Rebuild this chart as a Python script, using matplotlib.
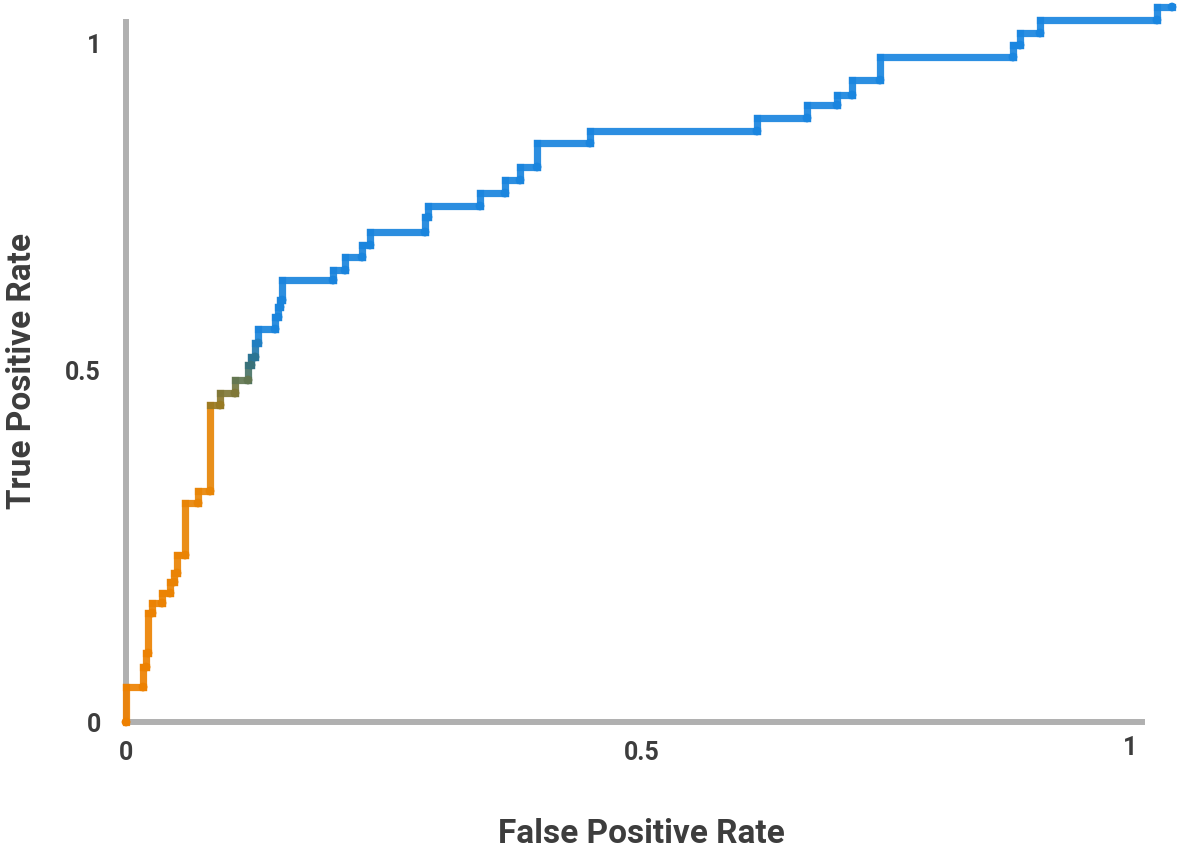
import numpy as np
import matplotlib
matplotlib.use('Agg')
import matplotlib.pyplot as plt
from matplotlib.collections import LineCollection
from matplotlib.colors import LinearSegmentedColormap
from matplotlib.transforms import ScaledTranslation

# ROC points (corner at the right end of each horizontal run)
fpr = [0.0, 0.0165, 0.0194, 0.0213, 0.0252, 0.0349, 0.0426, 0.0465, 0.0494,
       0.0572, 0.0698, 0.0814, 0.0911, 0.1056, 0.1182, 0.1211, 0.125, 0.1279,
       0.1444, 0.1473, 0.1492, 0.1512, 0.2006, 0.2122, 0.2287, 0.2364, 0.2897,
       0.2926, 0.343, 0.3672, 0.3818, 0.3983, 0.4496, 0.6114, 0.6599, 0.689,
       0.7035, 0.7306, 0.8595, 0.8663, 0.8857, 0.999, 1.0136]
tpr = [0.0, 0.0497, 0.0781, 0.098, 0.1548, 0.169, 0.1832, 0.1989, 0.2116,
       0.2372, 0.3111, 0.3281, 0.4503, 0.4673, 0.4858, 0.5071, 0.5185, 0.5384,
       0.5582, 0.5753, 0.5895, 0.5994, 0.6278, 0.642, 0.6605, 0.6776, 0.696,
       0.7173, 0.733, 0.7514, 0.7699, 0.7884, 0.8224, 0.8395, 0.858, 0.8764,
       0.8906, 0.9119, 0.9446, 0.9616, 0.9787, 0.9972, 1.0156]

xticks = [0, 0.5, 1]
xtick_labels = ['0', '0.5', '1']
yticks = [0, 0.5, 1]
ytick_labels = ['0', '0.5', '1']

grey = '#b0b0b0'
text_col = '#3d3d3d'

plt.rcParams['font.family'] = ['Roboto', 'DejaVu Sans']
plt.rcParams['font.weight'] = 'bold'

# staircase: go up first, then right
xs = [fpr[0]]
ys = [tpr[0]]
for i in range(1, len(fpr)):
    xs += [fpr[i - 1], fpr[i]]
    ys += [tpr[i], tpr[i]]
pts = np.column_stack([xs, ys])
segs = np.stack([pts[:-1], pts[1:]], axis=1)
mid_y = (segs[:, 0, 1] + segs[:, 1, 1]) / 2

cmap = LinearSegmentedColormap.from_list('roc', [
    (0.0, '#ee8000'), (0.42, '#e68608'), (0.45, '#9a7a22'), (0.49, '#5c7656'),
    (0.51, '#2f7083'), (0.55, '#1a84dc'), (1.0, '#1a86e0')])

fig = plt.figure(figsize=(11.8, 8.52), dpi=100)
ax = fig.add_axes([0.10678, 0.15258, 0.89203, 0.84695])
ax.set_xlim(0, 1.02)
ax.set_ylim(0, 1.025)

lc = LineCollection(segs, cmap=cmap, linewidths=5.2, capstyle='projecting',
                    clip_on=False, zorder=3, alpha=0.92)
lc.set_array(mid_y)
lc.set_clim(0, 1)
ax.add_collection(lc)
ax.scatter(fpr, tpr, c=tpr, cmap=cmap, vmin=0, vmax=1, s=40, linewidths=0,
           zorder=4, clip_on=False)

for s in ['top', 'right']:
    ax.spines[s].set_visible(False)
for s in ['left', 'bottom']:
    ax.spines[s].set_color(grey)
    ax.spines[s].set_linewidth(4.3)
ax.spines['bottom'].set_bounds(0, 0.985)
ax.spines['left'].set_bounds(0, 0.995)

ax.set_xticks(xticks)
ax.set_xticklabels(xtick_labels)
ax.set_yticks(yticks)
ax.set_yticklabels(ytick_labels)
ax.set_xticks([0.5], minor=True)
ax.set_yticks([0.5], minor=True)
ax.tick_params(axis='x', which='major', length=0, pad=14, labelsize=18,
               labelcolor=text_col)
ax.tick_params(axis='y', which='major', length=0, pad=18, labelsize=18,
               labelcolor=text_col)
ax.tick_params(which='minor', length=11.5, width=3.6, color=grey)

# the "1" labels sit a little inside the true 1.0 position in the source
lab = ax.xaxis.get_major_ticks()[2].label1
lab.set_transform(lab.get_transform() + ScaledTranslation(-0.28, 0.05, fig.dpi_scale_trans))
lab = ax.yaxis.get_major_ticks()[2].label1
lab.set_transform(lab.get_transform() + ScaledTranslation(0, -0.25, fig.dpi_scale_trans))

ax.set_xlabel('False Positive Rate', fontsize=24, fontweight='bold', color=text_col)
ax.xaxis.set_label_coords(0.4893, -0.1330)
ax.set_ylabel('True Positive Rate', fontsize=24, fontweight='bold', color=text_col)
ax.yaxis.set_label_coords(-0.0835, 0.4864)

plt.savefig('out.png', dpi=100)
